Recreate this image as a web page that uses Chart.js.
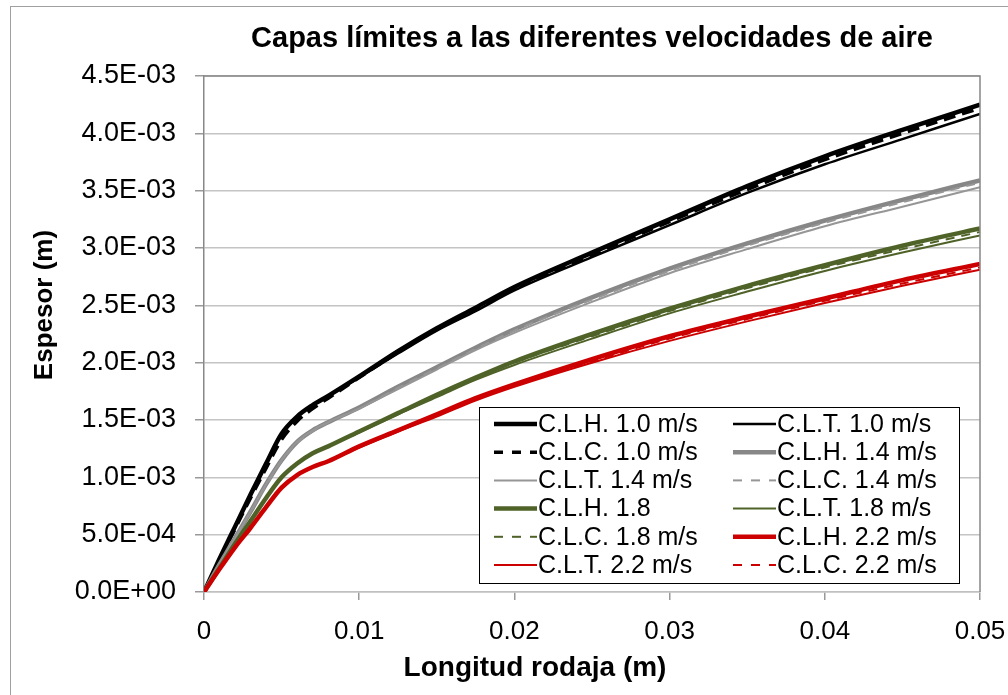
<!DOCTYPE html>
<html>
<head>
<meta charset="utf-8">
<script src="https://cdn.jsdelivr.net/npm/chart.js@4"></script>
<style>
  body { margin: 0; background: #fff; }
</style>
</head>
<body>
<canvas id="capas" width="1008" height="695"></canvas>
<script>
// x en metros, espesores en 1E-03 m
const xValues = [0, 0.001, 0.002, 0.003, 0.004, 0.005, 0.006, 0.007, 0.008, 0.010, 0.0125, 0.015, 0.0175, 0.020, 0.025, 0.030, 0.035, 0.040, 0.045, 0.050]

const clh10 = [0, 0.29, 0.57, 0.85, 1.12, 1.38, 1.53, 1.63, 1.71, 1.88, 2.10, 2.30, 2.48, 2.66, 2.96, 3.25, 3.54, 3.80, 4.03, 4.25]
const clt10 = [0, 0.29, 0.57, 0.85, 1.12, 1.38, 1.53, 1.63, 1.71, 1.87, 2.08, 2.28, 2.45, 2.63, 2.92, 3.20, 3.48, 3.73, 3.95, 4.17]
const clc10 = [0, 0.28, 0.55, 0.82, 1.08, 1.33, 1.49, 1.60, 1.69, 1.87, 2.09, 2.29, 2.47, 2.65, 2.94, 3.23, 3.51, 3.77, 4.00, 4.22]
const clh14 = [0, 0.24, 0.47, 0.70, 0.94, 1.15, 1.31, 1.41, 1.48, 1.61, 1.79, 1.96, 2.13, 2.29, 2.57, 2.82, 3.04, 3.24, 3.42, 3.59]
const clt14 = [0, 0.24, 0.47, 0.70, 0.94, 1.15, 1.31, 1.41, 1.48, 1.60, 1.77, 1.94, 2.11, 2.26, 2.53, 2.78, 2.99, 3.19, 3.36, 3.53]
const clc14 = [0, 0.24, 0.47, 0.70, 0.93, 1.14, 1.30, 1.40, 1.48, 1.60, 1.78, 1.95, 2.12, 2.28, 2.55, 2.80, 3.02, 3.22, 3.40, 3.57]
const clh18 = [0, 0.21, 0.42, 0.62, 0.82, 1.00, 1.12, 1.21, 1.27, 1.40, 1.56, 1.72, 1.87, 2.01, 2.25, 2.47, 2.67, 2.85, 3.02, 3.17]
const clt18 = [0, 0.21, 0.42, 0.62, 0.82, 1.00, 1.12, 1.21, 1.27, 1.39, 1.55, 1.70, 1.85, 1.98, 2.21, 2.43, 2.62, 2.80, 2.96, 3.11]
const clc18 = [0, 0.21, 0.42, 0.62, 0.82, 1.00, 1.12, 1.21, 1.27, 1.40, 1.56, 1.71, 1.86, 2.00, 2.23, 2.45, 2.65, 2.83, 2.99, 3.14]
const clh22 = [0, 0.20, 0.39, 0.56, 0.74, 0.91, 1.02, 1.09, 1.14, 1.27, 1.41, 1.55, 1.69, 1.81, 2.03, 2.23, 2.40, 2.56, 2.72, 2.86]
const clt22 = [0, 0.20, 0.39, 0.56, 0.74, 0.91, 1.02, 1.09, 1.14, 1.26, 1.40, 1.53, 1.67, 1.79, 2.00, 2.19, 2.36, 2.52, 2.67, 2.81]
const clc22 = [0, 0.20, 0.39, 0.56, 0.74, 0.91, 1.02, 1.09, 1.14, 1.27, 1.41, 1.54, 1.68, 1.80, 2.01, 2.21, 2.38, 2.54, 2.69, 2.83]

const xTicks = [0, 0.01, 0.02, 0.03, 0.04, 0.05]
const xTickLabels = ['0', '0.01', '0.02', '0.03', '0.04', '0.05']
const yTicks = [0, 0.5, 1.0, 1.5, 2.0, 2.5, 3.0, 3.5, 4.0, 4.5]
const yTickLabels = ['0.0E+00', '5.0E-04', '1.0E-03', '1.5E-03', '2.0E-03', '2.5E-03', '3.0E-03', '3.5E-03', '4.0E-03', '4.5E-03']

const FONT = "'Liberation Sans', Arial, sans-serif"

function series(label, values, color, width, dash) {
  return {
    label,
    data: values.map((v, i) => ({ x: xValues[i], y: v })),
    borderColor: color,
    borderWidth: width,
    borderDash: dash || [],
    pointRadius: 0,
    cubicInterpolationMode: 'monotone',
    fill: false,
  }
}

const datasets = [
  series('C.L.H. 1.0 m/s', clh10, '#000000', 4.5),
  series('C.L.T. 1.0 m/s', clt10, '#000000', 2.5),
  series('C.L.C. 1.0 m/s', clc10, '#000000', 3.5, [12, 7]),
  series('C.L.H. 1.4 m/s', clh14, '#878787', 4.5),
  series('C.L.T. 1.4 m/s', clt14, '#969696', 2),
  series('C.L.C. 1.4 m/s', clc14, '#969696', 2, [9, 7]),
  series('C.L.H. 1.8', clh18, '#4f6228', 4.5),
  series('C.L.T. 1.8 m/s', clt18, '#4f6228', 2),
  series('C.L.C. 1.8 m/s', clc18, '#4f6228', 2, [9, 7]),
  series('C.L.H. 2.2 m/s', clh22, '#cc0000', 4.5),
  series('C.L.T. 2.2 m/s', clt22, '#cc0000', 2),
  series('C.L.C. 2.2 m/s', clc22, '#cc0000', 2, [9, 7]),
]
// later series on top, like the spreadsheet
datasets.forEach((d, i) => { d.order = datasets.length - i })

const frame = {
  id: 'frame',
  beforeDraw(chart) {
    const { ctx } = chart
    ctx.save()
    ctx.strokeStyle = '#a0a0a0'
    ctx.lineWidth = 1
    ctx.strokeRect(10.5, 6.5, 1200, 1000)
    ctx.restore()
  },
  afterDraw(chart) {
    const { ctx, chartArea: a } = chart
    ctx.save()
    // plot border top + right
    ctx.strokeStyle = '#868686'
    ctx.lineWidth = 1.5
    ctx.beginPath()
    ctx.moveTo(a.left, a.top)
    ctx.lineTo(a.right, a.top)
    ctx.lineTo(a.right, a.bottom)
    ctx.stroke()

    // axis titles
    ctx.fillStyle = '#000'
    ctx.textAlign = 'center'
    ctx.textBaseline = 'middle'
    ctx.font = 'bold 28px ' + FONT
    ctx.fillText('Longitud rodaja (m)', 535, 668)
    ctx.translate(45, 305)
    ctx.rotate(-Math.PI / 2)
    ctx.font = 'bold 26px ' + FONT
    ctx.fillText('Espesor (m)', 0, 0)
    ctx.restore()

    // legend box
    const box = { left: 479, top: 407, right: 959, bottom: 583 }
    ctx.save()
    ctx.fillStyle = '#fff'
    ctx.fillRect(box.left, box.top, box.right - box.left, box.bottom - box.top)
    ctx.strokeStyle = '#000'
    ctx.lineWidth = 1
    ctx.strokeRect(box.left + 0.5, box.top + 0.5, box.right - box.left, box.bottom - box.top)
    ctx.font = '25px ' + FONT
    ctx.textAlign = 'left'
    ctx.textBaseline = 'middle'
    const colX = [494, 733]
    chart.data.datasets.forEach((d, i) => {
      const x0 = colX[i % 2]
      const y = 424 + Math.floor(i / 2) * 28.2
      ctx.strokeStyle = d.borderColor
      ctx.lineWidth = d.borderWidth
      ctx.setLineDash(d.borderDash.length ? [9, 9] : [])
      ctx.beginPath()
      ctx.moveTo(x0, y)
      ctx.lineTo(x0 + 43, y)
      ctx.stroke()
      ctx.setLineDash([])
      ctx.fillStyle = '#000'
      ctx.fillText(d.label, x0 + 44, y + 1)
    })
    ctx.restore()
  }
}

new Chart(document.getElementById('capas'), {
  type: 'line',
  data: { datasets },
  plugins: [frame],
  options: {
    responsive: false,
    animation: false,
    layout: { padding: { left: 0, right: 0, top: 0, bottom: 0 } },
    plugins: {
      legend: { display: false },
      tooltip: { enabled: false },
      title: {
        display: true,
        text: 'Capas límites a las diferentes velocidades de aire',
        color: '#000',
        font: { family: FONT, size: 29, weight: 'bold' },
        padding: { top: 22, bottom: 19.2 },
        fullSize: false,
      },
    },
    scales: {
      x: {
        type: 'linear',
        min: 0,
        max: 0.05,
        afterBuildTicks: s => { s.ticks = xTicks.map(v => ({ value: v })) },
        afterFit: s => {
          s.height = 103
          s.paddingLeft = 0
          s.paddingRight = 28
        },
        ticks: {
          callback: (v, i) => xTickLabels[i],
          color: '#000',
          font: { family: FONT, size: 26 },
          padding: 16,
          maxRotation: 0,
          autoSkip: false,
        },
        grid: { drawOnChartArea: false, tickLength: 8, tickColor: '#999', lineWidth: 1.5 },
        border: { display: true, color: '#c0c0c0', width: 1.5 },
      },
      y: {
        min: 0,
        max: 4.5,
        afterBuildTicks: s => { s.ticks = yTicks.map(v => ({ value: v })) },
        afterFit: s => { s.width = 204 },
        ticks: {
          callback: (v, i) => yTickLabels[i],
          color: '#000',
          font: { family: FONT, size: 27 },
          padding: 19,
        },
        grid: { color: '#c4c4c4', lineWidth: 1.5, tickLength: 9, tickColor: '#999' },
        border: { display: true, color: '#888', width: 1.5 },
      },
    },
  },
})
</script>
</body>
</html>
